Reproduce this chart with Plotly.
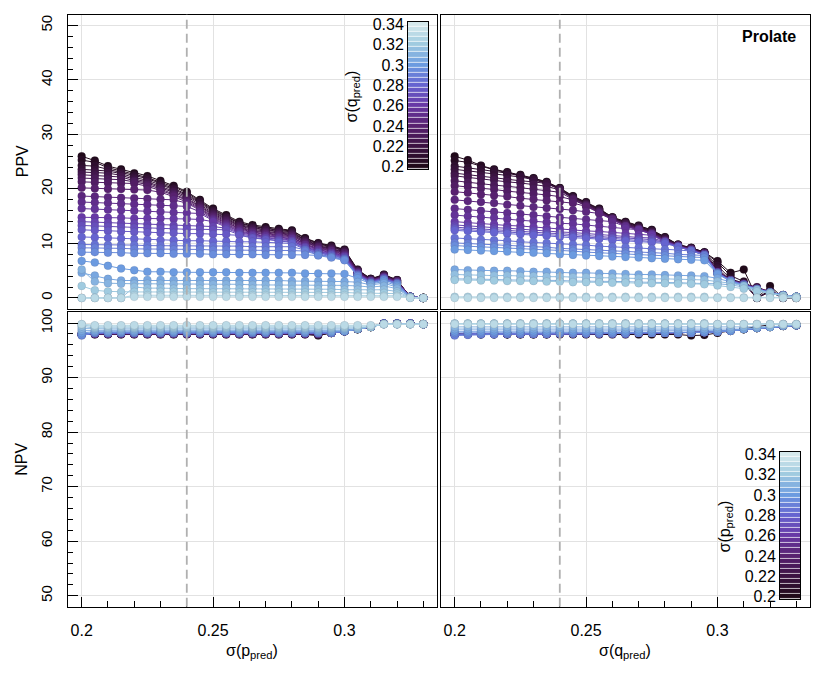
import plotly.graph_objects as go
from plotly.colors import sample_colorscale

# ================= DATA =================
# grid of sigma values used for both sigma(p_pred) and sigma(q_pred)
sigma = [0.200, 0.205, 0.210, 0.215, 0.220, 0.225, 0.230, 0.235, 0.240,
         0.245, 0.250, 0.255, 0.260, 0.265, 0.270, 0.275, 0.280, 0.285,
         0.290, 0.295, 0.300, 0.305, 0.310, 0.315, 0.320, 0.325, 0.330]

# PPV (%): one row per sigma(q_pred), columns follow sigma(p_pred)
ppv = [
    [26.0, 25.2, 24.2, 23.6, 22.9, 22.4, 21.5, 20.6, 19.5, 18.0, 16.4, 15.2, 14.0, 13.4, 13.0, 12.7, 12.4, 11.0, 10.1, 9.6, 8.9, 5.2, 3.5, 4.3, 3.3, 0.2, 0.0],
    [25.3, 24.9, 23.9, 23.3, 22.6, 22.1, 21.2, 20.4, 19.3, 17.8, 16.2, 15.0, 13.8, 13.2, 12.8, 12.5, 12.3, 10.9, 10.0, 9.5, 8.8, 5.1, 3.5, 4.2, 3.3, 0.2, 0.0],
    [24.3, 24.2, 23.6, 23.0, 22.4, 21.9, 21.0, 20.1, 19.0, 17.6, 16.0, 14.8, 13.7, 13.1, 12.7, 12.4, 12.1, 10.7, 9.9, 9.4, 8.7, 5.1, 3.4, 4.2, 3.2, 0.2, 0.0],
    [23.6, 23.5, 23.3, 22.8, 22.1, 21.6, 20.7, 19.9, 18.8, 17.4, 15.8, 14.7, 13.5, 12.9, 12.5, 12.2, 12.0, 10.6, 9.7, 9.3, 8.6, 5.0, 3.4, 4.1, 3.2, 0.2, 0.0],
    [23.1, 23.0, 22.9, 22.5, 21.8, 21.3, 20.5, 19.6, 18.6, 17.1, 15.6, 14.5, 13.3, 12.8, 12.4, 12.1, 11.8, 10.5, 9.6, 9.1, 8.5, 5.0, 3.3, 4.1, 3.1, 0.2, 0.0],
    [22.6, 22.5, 22.4, 22.2, 21.5, 21.1, 20.2, 19.4, 18.3, 16.9, 15.4, 14.3, 13.2, 12.6, 12.2, 11.9, 11.7, 10.3, 9.5, 9.0, 8.4, 4.9, 3.3, 4.0, 3.1, 0.2, 0.0],
    [22.0, 21.9, 21.8, 21.7, 21.3, 20.8, 20.0, 19.1, 18.1, 16.7, 15.2, 14.1, 13.0, 12.4, 12.1, 11.8, 11.5, 10.2, 9.4, 8.9, 8.3, 4.8, 3.2, 4.0, 3.1, 0.2, 0.0],
    [21.3, 21.2, 21.1, 21.0, 21.0, 20.5, 19.7, 18.9, 17.9, 16.5, 15.0, 13.9, 12.8, 12.3, 11.9, 11.6, 11.4, 10.1, 9.3, 8.8, 8.2, 4.8, 3.2, 3.9, 3.0, 0.2, 0.0],
    [20.2, 20.1, 20.0, 20.0, 19.9, 19.8, 19.4, 18.6, 17.6, 16.3, 14.8, 13.7, 12.7, 12.1, 11.8, 11.5, 11.2, 9.9, 9.1, 8.7, 8.0, 4.7, 3.2, 3.9, 3.0, 0.2, 0.0],
    [18.7, 18.6, 18.5, 18.4, 18.3, 18.2, 18.1, 18.0, 17.4, 16.1, 14.6, 13.6, 12.5, 12.0, 11.6, 11.3, 11.1, 9.8, 9.0, 8.6, 7.9, 4.6, 3.1, 3.8, 2.9, 0.2, 0.0],
    [17.6, 17.5, 17.4, 17.3, 17.2, 17.1, 17.0, 16.9, 16.8, 15.8, 14.4, 13.4, 12.3, 11.8, 11.4, 11.2, 10.9, 9.7, 8.9, 8.4, 7.8, 4.6, 3.1, 3.8, 2.9, 0.2, 0.0],
    [16.4, 16.3, 16.2, 16.1, 16.0, 15.9, 15.8, 15.7, 15.6, 15.5, 14.2, 13.2, 12.2, 11.6, 11.3, 11.0, 10.8, 9.5, 8.8, 8.3, 7.7, 4.5, 3.0, 3.7, 2.9, 0.2, 0.0],
    [14.8, 14.8, 14.7, 14.7, 14.6, 14.6, 14.6, 14.5, 14.5, 14.4, 14.0, 13.0, 12.0, 11.5, 11.1, 10.9, 10.6, 9.4, 8.6, 8.2, 7.6, 4.5, 3.0, 3.7, 2.8, 0.2, 0.0],
    [14.0, 13.9, 13.8, 13.7, 13.6, 13.5, 13.4, 13.3, 13.2, 13.2, 13.1, 12.8, 11.8, 11.3, 11.0, 10.7, 10.5, 9.3, 8.5, 8.1, 7.5, 4.4, 3.0, 3.6, 2.8, 0.2, 0.0],
    [13.3, 13.2, 13.1, 13.0, 12.9, 12.8, 12.7, 12.7, 12.6, 12.6, 12.5, 12.5, 11.6, 11.1, 10.8, 10.6, 10.3, 9.2, 8.4, 8.0, 7.4, 4.3, 2.9, 3.6, 2.7, 0.2, 0.0],
    [12.5, 12.4, 12.3, 12.2, 12.1, 12.0, 11.9, 11.9, 11.8, 11.8, 11.7, 11.7, 11.5, 11.0, 10.7, 10.4, 10.2, 9.0, 8.3, 7.9, 7.3, 4.3, 2.9, 3.5, 2.7, 0.2, 0.0],
    [11.2, 11.1, 11.0, 10.9, 10.8, 10.7, 10.6, 10.6, 10.5, 10.5, 10.4, 10.4, 10.3, 10.3, 10.2, 10.2, 10.0, 8.9, 8.2, 7.8, 7.2, 4.2, 2.8, 3.5, 2.7, 0.2, 0.0],
    [9.8, 9.8, 9.7, 9.7, 9.7, 9.6, 9.6, 9.6, 9.6, 9.5, 9.5, 9.5, 9.5, 9.4, 9.4, 9.4, 9.4, 8.8, 8.0, 7.6, 7.1, 4.1, 2.8, 3.4, 2.6, 0.2, 0.0],
    [9.2, 9.2, 9.1, 9.1, 9.0, 9.0, 9.0, 8.9, 8.9, 8.9, 8.8, 8.8, 8.8, 8.7, 8.7, 8.7, 8.7, 8.6, 7.9, 7.5, 7.0, 4.1, 2.7, 3.4, 2.6, 0.2, 0.0],
    [8.4, 8.4, 8.3, 8.3, 8.2, 8.2, 8.2, 8.1, 8.1, 8.1, 8.0, 8.0, 8.0, 8.0, 7.9, 7.9, 7.9, 7.9, 7.8, 7.4, 6.9, 4.0, 2.7, 3.3, 2.5, 0.2, 0.0],
    [6.8, 6.5, 5.9, 5.4, 5.1, 4.8, 4.8, 4.7, 4.7, 4.7, 4.7, 4.7, 4.6, 4.6, 4.6, 4.6, 4.6, 4.5, 4.5, 4.5, 4.4, 3.6, 2.6, 3.0, 2.3, 0.1, 0.0],
    [4.6, 4.1, 3.5, 3.2, 3.2, 3.3, 3.3, 3.3, 3.3, 3.3, 3.2, 3.2, 3.2, 3.2, 3.2, 3.2, 3.1, 3.1, 3.1, 3.1, 3.0, 2.9, 2.4, 2.7, 2.0, 0.1, 0.0],
    [5.2, 3.0, 2.7, 2.6, 2.6, 2.6, 2.6, 2.5, 2.5, 2.5, 2.5, 2.5, 2.5, 2.4, 2.4, 2.4, 2.4, 2.4, 2.3, 2.3, 2.3, 2.2, 2.0, 2.2, 1.7, 0.1, 0.0],
    [0.0, 0.0, 0.0, 0.0, 2.0, 1.8, 1.8, 1.7, 1.7, 1.7, 1.7, 1.7, 1.7, 1.7, 1.6, 1.6, 1.6, 1.6, 1.6, 1.6, 1.5, 1.5, 1.4, 1.5, 1.2, 0.1, 0.0],
    [2.2, 1.4, 1.2, 1.1, 1.1, 1.1, 1.1, 1.1, 1.1, 1.1, 1.0, 1.0, 1.0, 1.0, 1.0, 1.0, 1.0, 1.0, 1.0, 1.0, 1.0, 0.9, 0.9, 0.9, 0.8, 0.1, 0.0],
    [0.0, 0.0, 0.0, 0.0, 0.5, 0.5, 0.5, 0.5, 0.5, 0.5, 0.5, 0.5, 0.5, 0.5, 0.5, 0.5, 0.5, 0.5, 0.5, 0.5, 0.5, 0.4, 0.4, 0.4, 0.4, 0.1, 0.0],
    [0.0, 0.0, 0.0, 0.0, 0.2, 0.2, 0.2, 0.2, 0.2, 0.2, 0.2, 0.2, 0.2, 0.2, 0.2, 0.2, 0.2, 0.2, 0.2, 0.2, 0.2, 0.2, 0.2, 0.2, 0.2, 0.0, 0.0],
]

# NPV (%): same layout as ppv
npv = [
    [98.1, 97.9, 97.9, 97.9, 97.9, 97.9, 97.9, 97.9, 97.9, 97.9, 97.9, 97.9, 97.9, 97.9, 97.9, 97.9, 97.9, 97.9, 97.7, 98.2, 98.5, 98.9, 99.3, 99.9, 99.9, 99.9, 99.8],
    [97.9, 98.0, 98.0, 98.0, 98.0, 98.0, 98.0, 98.0, 98.0, 98.0, 98.0, 98.0, 98.0, 98.0, 98.0, 98.0, 98.0, 98.0, 97.8, 98.2, 98.5, 98.9, 99.3, 99.9, 99.9, 99.9, 99.8],
    [97.9, 98.0, 98.0, 98.0, 98.0, 98.0, 98.0, 98.0, 98.0, 98.0, 98.0, 98.0, 98.0, 98.0, 98.0, 98.0, 98.0, 98.0, 97.9, 98.2, 98.5, 98.9, 99.3, 99.9, 99.9, 99.9, 99.8],
    [97.9, 98.0, 98.0, 98.0, 98.0, 98.0, 98.0, 98.0, 98.0, 98.0, 98.0, 98.0, 98.0, 98.0, 98.0, 98.0, 98.0, 98.0, 97.9, 98.2, 98.5, 98.9, 99.3, 99.9, 99.9, 99.9, 99.8],
    [97.9, 98.0, 98.0, 98.0, 98.0, 98.0, 98.0, 98.0, 98.0, 98.0, 98.0, 98.0, 98.0, 98.0, 98.0, 98.0, 98.0, 98.0, 98.0, 98.2, 98.5, 98.9, 99.3, 99.9, 99.9, 99.9, 99.8],
    [97.9, 98.0, 98.0, 98.0, 98.0, 98.0, 98.0, 98.0, 98.0, 98.0, 98.0, 98.0, 98.0, 98.0, 98.0, 98.0, 98.0, 98.0, 98.0, 98.2, 98.5, 98.9, 99.3, 99.9, 99.9, 99.9, 99.8],
    [97.9, 98.0, 98.0, 98.0, 98.0, 98.0, 98.0, 98.0, 98.0, 98.0, 98.0, 98.0, 98.0, 98.0, 98.0, 98.0, 98.0, 98.0, 98.0, 98.2, 98.5, 98.9, 99.3, 99.9, 99.9, 99.9, 99.8],
    [97.9, 98.0, 98.0, 98.0, 98.0, 98.0, 98.0, 98.0, 98.0, 98.0, 98.0, 98.0, 98.0, 98.0, 98.0, 98.0, 98.0, 98.0, 98.0, 98.2, 98.5, 98.9, 99.3, 99.9, 99.9, 99.9, 99.8],
    [97.9, 98.1, 98.1, 98.1, 98.1, 98.1, 98.1, 98.1, 98.1, 98.1, 98.1, 98.1, 98.1, 98.1, 98.1, 98.1, 98.1, 98.1, 98.1, 98.2, 98.5, 98.9, 99.3, 99.9, 99.9, 99.9, 99.8],
    [97.9, 98.1, 98.1, 98.1, 98.1, 98.1, 98.1, 98.1, 98.1, 98.1, 98.1, 98.1, 98.1, 98.1, 98.1, 98.1, 98.1, 98.1, 98.1, 98.2, 98.5, 98.9, 99.3, 99.9, 99.9, 99.9, 99.8],
    [97.9, 98.1, 98.1, 98.1, 98.1, 98.1, 98.1, 98.1, 98.1, 98.1, 98.1, 98.1, 98.1, 98.1, 98.1, 98.1, 98.1, 98.1, 98.1, 98.2, 98.5, 98.9, 99.3, 99.9, 99.9, 99.9, 99.8],
    [97.9, 98.1, 98.1, 98.1, 98.1, 98.1, 98.1, 98.1, 98.1, 98.1, 98.1, 98.1, 98.1, 98.1, 98.1, 98.1, 98.1, 98.1, 98.1, 98.2, 98.5, 98.9, 99.3, 99.9, 99.9, 99.9, 99.8],
    [97.9, 98.1, 98.1, 98.1, 98.1, 98.1, 98.1, 98.1, 98.1, 98.1, 98.1, 98.1, 98.1, 98.1, 98.1, 98.1, 98.1, 98.1, 98.1, 98.2, 98.5, 98.9, 99.3, 99.9, 99.9, 99.9, 99.8],
    [97.9, 98.1, 98.1, 98.1, 98.1, 98.1, 98.1, 98.1, 98.1, 98.1, 98.1, 98.1, 98.1, 98.1, 98.1, 98.1, 98.1, 98.1, 98.1, 98.2, 98.5, 98.9, 99.3, 99.9, 99.9, 99.9, 99.8],
    [97.9, 98.2, 98.2, 98.2, 98.2, 98.2, 98.2, 98.2, 98.2, 98.2, 98.2, 98.2, 98.2, 98.2, 98.2, 98.2, 98.2, 98.2, 98.2, 98.2, 98.5, 98.9, 99.3, 99.9, 99.9, 99.9, 99.8],
    [97.9, 98.2, 98.2, 98.2, 98.2, 98.2, 98.2, 98.2, 98.2, 98.2, 98.2, 98.2, 98.2, 98.2, 98.2, 98.2, 98.2, 98.2, 98.2, 98.2, 98.5, 98.9, 99.3, 99.9, 99.9, 99.9, 99.8],
    [97.9, 98.2, 98.2, 98.2, 98.2, 98.2, 98.2, 98.2, 98.2, 98.2, 98.2, 98.2, 98.2, 98.2, 98.2, 98.2, 98.2, 98.2, 98.2, 98.2, 98.5, 98.9, 99.3, 99.9, 99.9, 99.9, 99.8],
    [97.9, 98.2, 98.2, 98.2, 98.2, 98.2, 98.2, 98.2, 98.2, 98.2, 98.2, 98.2, 98.2, 98.2, 98.2, 98.2, 98.2, 98.2, 98.2, 98.2, 98.5, 98.9, 99.3, 99.9, 99.9, 99.9, 99.8],
    [97.7, 98.2, 98.2, 98.2, 98.2, 98.2, 98.2, 98.2, 98.2, 98.2, 98.2, 98.2, 98.2, 98.2, 98.2, 98.2, 98.2, 98.2, 98.2, 98.2, 98.5, 98.9, 99.3, 99.9, 99.9, 99.9, 99.8],
    [97.8, 98.3, 98.3, 98.3, 98.3, 98.3, 98.3, 98.3, 98.3, 98.3, 98.3, 98.3, 98.3, 98.3, 98.3, 98.3, 98.3, 98.3, 98.3, 98.3, 98.5, 98.9, 99.3, 99.9, 99.9, 99.9, 99.8],
    [98.2, 98.4, 98.4, 98.4, 98.4, 98.4, 98.4, 98.4, 98.4, 98.4, 98.4, 98.4, 98.4, 98.4, 98.4, 98.4, 98.4, 98.4, 98.4, 98.4, 98.5, 98.9, 99.3, 99.8, 99.8, 99.8, 99.8],
    [98.6, 98.6, 98.6, 98.6, 98.6, 98.6, 98.6, 98.6, 98.6, 98.6, 98.6, 98.6, 98.6, 98.6, 98.6, 98.6, 98.6, 98.6, 98.6, 98.6, 98.6, 98.9, 99.3, 99.8, 99.8, 99.8, 99.8],
    [99.0, 98.9, 98.9, 98.9, 98.9, 98.9, 98.9, 98.9, 98.9, 98.9, 98.9, 98.9, 98.9, 98.9, 98.9, 98.9, 98.9, 98.9, 98.9, 98.9, 98.9, 98.9, 99.3, 99.8, 99.8, 99.8, 99.8],
    [99.4, 99.1, 99.1, 99.1, 99.1, 99.1, 99.1, 99.1, 99.1, 99.1, 99.1, 99.1, 99.1, 99.1, 99.1, 99.1, 99.1, 99.1, 99.1, 99.1, 99.1, 99.1, 99.3, 99.8, 99.8, 99.8, 99.8],
    [99.7, 99.3, 99.3, 99.3, 99.3, 99.3, 99.3, 99.3, 99.3, 99.3, 99.3, 99.3, 99.3, 99.3, 99.3, 99.3, 99.3, 99.3, 99.3, 99.3, 99.3, 99.3, 99.3, 99.8, 99.8, 99.8, 99.8],
    [99.8, 99.5, 99.5, 99.5, 99.5, 99.5, 99.5, 99.5, 99.5, 99.5, 99.5, 99.5, 99.5, 99.5, 99.5, 99.5, 99.5, 99.5, 99.5, 99.5, 99.5, 99.5, 99.5, 99.8, 99.8, 99.8, 99.8],
    [99.8, 99.6, 99.6, 99.6, 99.6, 99.6, 99.6, 99.6, 99.6, 99.6, 99.6, 99.6, 99.6, 99.6, 99.6, 99.6, 99.6, 99.6, 99.6, 99.6, 99.6, 99.6, 99.6, 99.8, 99.8, 99.8, 99.8],
]

# colour key levels (bands of the colour bar) and its labels
cbar_levels = [0.200, 0.205, 0.210, 0.215, 0.220, 0.225, 0.230, 0.235, 0.240,
               0.245, 0.250, 0.255, 0.260, 0.265, 0.270, 0.275, 0.280, 0.285,
               0.290, 0.295, 0.300, 0.305, 0.310, 0.315, 0.320, 0.325, 0.330,
               0.335, 0.340]
cbar_ticks = [0.20, 0.22, 0.24, 0.26, 0.28, 0.30, 0.32, 0.34]

ref_sigma = 0.24   # dashed reference line

# ================= STYLE =================
FONT = "Liberation Sans, Arial, sans-serif"
cmin, cmax = 0.1975, 0.3425
dense_cs = [
    [0.000, "rgb(28, 8, 20)"],
    [0.155, "rgb(60, 18, 66)"],
    [0.293, "rgb(88, 33, 111)"],
    [0.431, "rgb(104, 57, 166)"],
    [0.569, "rgb(102, 100, 208)"],
    [0.707, "rgb(108, 155, 224)"],
    [0.845, "rgb(160, 203, 224)"],
    [1.000, "rgb(220, 237, 238)"],
]

# the page body keeps its 8px margin, so the figure is a bit smaller than the window
OFF = 8
W, H = 820 - 2 * OFF, 675 - 2 * OFF


def px_x(v):
    # window pixel -> paper fraction
    return (v - OFF) / W


def px_y(v):
    return 1 - (v - OFF) / H


def shade(level):
    return sample_colorscale(dense_cs, [(level - cmin) / (cmax - cmin)])[0]


for row in ppv + npv:
    assert len(row) == len(sigma)

fig = go.Figure()


def add_lines(series, levels, xa, ya):
    for lev, ys in zip(levels, series):
        c = shade(lev)
        fig.add_trace(go.Scatter(
            x=sigma, y=ys, mode="lines+markers",
            xaxis=xa, yaxis=ya,
            line=dict(color=c, width=1),
            marker=dict(color=c, size=8,
                        line=dict(color="rgba(60, 60, 80, 0.18)", width=0.6)),
            showlegend=False, hoverinfo="skip",
        ))


ppv_cols = [list(c) for c in zip(*ppv)]
npv_cols = [list(c) for c in zip(*npv)]

add_lines(ppv, sigma, "x", "y")        # x = sigma(p), colour = sigma(q)
add_lines(ppv_cols, sigma, "x2", "y2")  # x = sigma(q), colour = sigma(p)
add_lines(npv, sigma, "x3", "y3")
add_lines(npv_cols, sigma, "x4", "y4")

# colour keys drawn as one-column heatmaps
for xa, ya in [("x5", "y5"), ("x6", "y6")]:
    fig.add_trace(go.Heatmap(
        x=[0], y=cbar_levels, z=[[v] for v in cbar_levels],
        colorscale=dense_cs, zmin=cmin, zmax=cmax, showscale=False,
        ygap=0.7, xaxis=xa, yaxis=ya, hoverinfo="skip",
    ))

# ---------- AXES ----------
frame = dict(showline=True, linecolor="black", linewidth=1.2, mirror=True,
             zeroline=False, gridcolor="#e2e2e2", gridwidth=1)

xdom_l = [px_x(68), px_x(437)]
xdom_r = [px_x(441), px_x(810)]
ydom_t = [px_y(308.3), px_y(8.6)]
ydom_b = [px_y(611.7), px_y(311.7)]
xrange_ = [0.1948, 0.3352]

xtop = dict(frame, range=xrange_, tick0=0.2, dtick=0.05, showticklabels=False, ticks="")
xbot = dict(frame, range=xrange_, tick0=0.2, dtick=0.05, ticks="inside", ticklen=10,
            tickcolor="black", tickfont=dict(size=16), ticklabelstandoff=9,
            minor=dict(dtick=0.01, tick0=0.2, ticks="inside", ticklen=6,
                       tickcolor="black", showgrid=False))
yleft = dict(frame, dtick=10, ticks="inside", ticklen=10, tickcolor="black",
             tickangle=-90, tickfont=dict(size=15), ticklabelstandoff=9,
             minor=dict(dtick=2, ticks="inside", ticklen=5, tickcolor="black",
                        showgrid=False))
yright = dict(frame, dtick=10, showticklabels=False, ticks="")

key_y = dict(showline=True, linecolor="black", linewidth=1, mirror=True,
             showgrid=False, zeroline=False, range=[cmin, cmax],
             tickvals=cbar_ticks, ticks="", side="left",
             tickfont=dict(size=16))
key_x = dict(showline=True, linecolor="black", linewidth=1, mirror=True,
             showgrid=False, zeroline=False, range=[-0.5, 0.5],
             showticklabels=False, ticks="")

fig.update_layout(
    width=W, height=H,
    margin=dict(l=0, r=0, t=0, b=0),
    paper_bgcolor="white", plot_bgcolor="white",
    font=dict(family=FONT, size=15, color="black"),
    showlegend=False,
    xaxis=dict(xtop, domain=xdom_l, anchor="y"),
    yaxis=dict(yleft, domain=ydom_t, anchor="x", range=[-2, 52]),
    xaxis2=dict(xtop, domain=xdom_r, anchor="y2"),
    yaxis2=dict(yright, domain=ydom_t, anchor="x2", range=[-2, 52]),
    xaxis3=dict(xbot, domain=xdom_l, anchor="y3"),
    yaxis3=dict(yleft, domain=ydom_b, anchor="x3", range=[48, 102]),
    xaxis4=dict(xbot, domain=xdom_r, anchor="y4"),
    yaxis4=dict(yright, domain=ydom_b, anchor="x4", range=[48, 102]),
    xaxis5=dict(key_x, domain=[px_x(408), px_x(428)], anchor="y5"),
    yaxis5=dict(key_y, domain=[px_y(166), px_y(16)], anchor="x5"),
    xaxis6=dict(key_x, domain=[px_x(780), px_x(800)], anchor="y6"),
    yaxis6=dict(key_y, domain=[px_y(604), px_y(454)], anchor="x6"),
)

# dashed reference line in every panel
for xr, yr in [("x", "y"), ("x2", "y2"), ("x3", "y3"), ("x4", "y4")]:
    fig.add_shape(type="line", xref=xr, yref=yr + " domain",
                  x0=ref_sigma, x1=ref_sigma, y0=0, y1=1, layer="above",
                  line=dict(color="#b0b0b0", width=1.8, dash="9px,5px"))

# ---------- TEXT ----------
notes = [
    ("PPV", 22, 158, -90, 16, "center"),
    ("NPV", 22, 462, -90, 16, "center"),
    ("σ(p<sub>pred</sub>)", 252, 657, 0, 16, "center"),
    ("σ(q<sub>pred</sub>)", 625, 657, 0, 16, "center"),
    ("σ(q<sub>pred</sub>)", 352, 92, -90, 16, "center"),
    ("σ(p<sub>pred</sub>)", 725, 530, -90, 16, "center"),
    ("<b>Prolate</b>", 798, 31, 0, 16, "right"),
]
for txt, x, y, ang, size, anchor in notes:
    fig.add_annotation(text=txt, x=px_x(x), y=px_y(y), xref="paper", yref="paper",
                       xanchor=anchor, yanchor="middle", textangle=ang,
                       showarrow=False, font=dict(family=FONT, size=size, color="black"))

fig.write_html("out.html")
